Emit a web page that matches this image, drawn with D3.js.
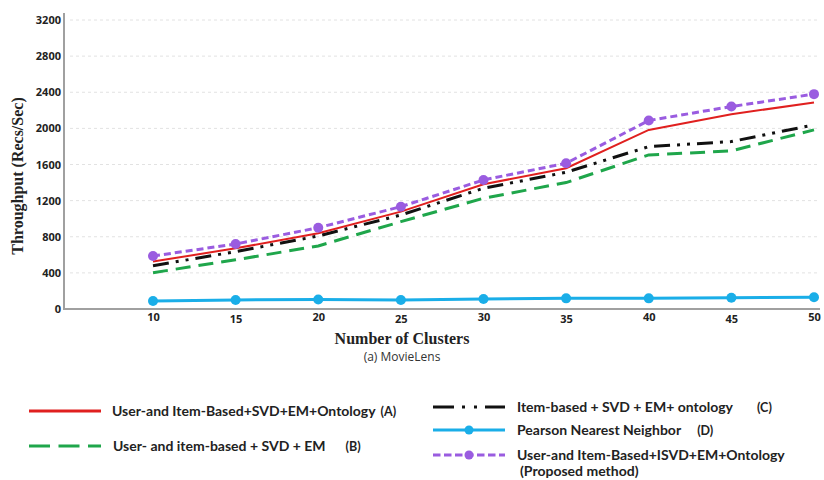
<!DOCTYPE html>
<html><head><meta charset="utf-8">
<script src="https://cdn.jsdelivr.net/npm/d3@7"></script>
<style>
body{margin:0;background:#fff;}
svg{display:block;}
</style></head>
<body>
<svg id="chart" width="824" height="480"></svg>
<script>
const clusters = [10, 15, 20, 25, 30, 35, 40, 45, 50];
const yTicks = [0, 400, 800, 1200, 1600, 2000, 2400, 2800, 3200];
const seriesA = [525, 672, 838, 1078, 1381, 1559, 1983, 2157, 2286];   // User-and Item-Based+SVD+EM+Ontology (A)
const seriesB = [402, 545, 698, 967, 1226, 1400, 1706, 1751, 1983];   // User- and item-based + SVD + EM (B)
const seriesC = [480, 635, 809, 1041, 1337, 1514, 1798, 1854, 2039];  // Item-based + SVD + EM+ ontology (C)
const seriesD = [89, 100, 105, 100, 110, 118, 118, 125, 130];          // Pearson Nearest Neighbor (D)
const seriesE = [587, 720, 900, 1133, 1429, 1614, 2087, 2242, 2379];  // Proposed

const svg = d3.select("#chart");
const x0 = 64, x1 = 820, yTop = 13, yBot = 309;
const x = d3.scaleLinear().domain([10, 50]).range([153, 814]);
const y = d3.scaleLinear().domain([0, 3200]).range([yBot, 20]);

// gridlines
svg.append("g").selectAll("line").data(yTicks.slice(1)).join("line")
  .attr("x1", x0 + 6).attr("x2", x1).attr("y1", d => y(d)).attr("y2", d => y(d))
  .attr("stroke", "#e2e2e2").attr("stroke-width", 1).attr("stroke-dasharray", "3,3");

// y axis
const yAxis = d3.axisLeft(y).tickValues(yTicks).tickSize(0).tickPadding(3).tickFormat(d3.format("d"));
const gy = svg.append("g").attr("transform", `translate(${x0},0)`).call(yAxis);
gy.select(".domain").remove();
gy.selectAll("text").attr("font-family", "'Open Sans', sans-serif").attr("font-weight", "bold")
  .attr("font-size", 11).attr("fill", "#222");
svg.append("line").attr("x1", x0).attr("x2", x0).attr("y1", yTop).attr("y2", yBot + 1)
  .attr("stroke", "#a0a0a0").attr("stroke-width", 2);

// x axis
const xAxis = d3.axisBottom(x).tickValues(clusters).tickSize(0).tickPadding(4).tickFormat(d3.format("d"));
const gx = svg.append("g").attr("transform", `translate(0,${yBot})`).call(xAxis);
gx.select(".domain").remove();
gx.selectAll("text").attr("font-family", "'Open Sans', sans-serif").attr("font-weight", "bold")
  .attr("font-size", 11).attr("fill", "#222")
  .attr("dy", (d, i) => (i % 2 === 1 ? "0.95em" : "0.75em"));
svg.append("line").attr("x1", x0 - 1).attr("x2", x1).attr("y1", yBot).attr("y2", yBot)
  .attr("stroke", "#a0a0a0").attr("stroke-width", 2);

// titles
svg.append("text").attr("transform", `translate(23,176) rotate(-90)`).attr("text-anchor", "middle")
  .attr("font-family", "'Liberation Serif', 'Times New Roman', serif").attr("font-weight", "bold")
  .attr("font-size", 16).attr("fill", "#222").text("Throughput (Recs/Sec)");
svg.append("text").attr("x", 402).attr("y", 344).attr("text-anchor", "middle")
  .attr("font-family", "'Liberation Serif', 'Times New Roman', serif").attr("font-weight", "bold")
  .attr("font-size", 16).attr("fill", "#222").text("Number of Clusters");
svg.append("text").attr("x", 402).attr("y", 361).attr("text-anchor", "middle")
  .attr("font-family", "'Open Sans', sans-serif")
  .attr("font-size", 12).attr("fill", "#333").text("(a) MovieLens");

const line = d3.line().x((d, i) => x(clusters[i])).y(d => y(d));

const series = [
  {v: seriesB, color: "#1fa64b", w: 3, dash: "15,8", marker: false},
  {v: seriesC, color: "#111", w: 3, dash: "16,7,3,7,3,7", marker: false},
  {v: seriesA, color: "#e0201f", w: 2, dash: null, marker: false},
  {v: seriesD, color: "#1aaee8", w: 3, dash: null, marker: true},
  {v: seriesE, color: "#9a5ce0", w: 3, dash: "7,4", marker: true},
];
series.forEach(s => {
  svg.append("path").datum(s.v).attr("d", line).attr("fill", "none")
    .attr("stroke", s.color).attr("stroke-width", s.w)
    .attr("stroke-dasharray", s.dash);
  if (s.marker) {
    svg.append("g").selectAll("circle").data(s.v).join("circle")
      .attr("cx", (d, i) => x(clusters[i])).attr("cy", d => y(d)).attr("r", 5)
      .attr("fill", s.color);
  }
});

// legend
const legendFont = "Lato, 'Open Sans', sans-serif";
const legend = [
  {x: 29, y: 411, len: 72, color: "#e0201f", w: 3, dash: null, marker: false, tx: 112,
   label: "User-and Item-Based+SVD+EM+Ontology", tag: "(A)", tagGap: 5},
  {x: 29, y: 446, len: 72, color: "#1fa64b", w: 3, dash: "21,8.5", marker: false, tx: 113,
   label: "User- and item-based + SVD + EM", tag: "(B)", tagGap: 20},
  {x: 433, y: 407, len: 72, color: "#111", w: 3, dash: "21,8,3,9,3,8", marker: false, tx: 517,
   label: "Item-based + SVD + EM+ ontology", tag: "(C)", tagGap: 24},
  {x: 433, y: 430, len: 72, color: "#1aaee8", w: 3, dash: null, marker: true, tx: 517,
   label: "Pearson Nearest Neighbor", tag: "(D)", tagGap: 16},
  {x: 433, y: 455, len: 72, color: "#9a5ce0", w: 3, dash: "7.5,3.5", marker: true, tx: 517,
   label: "User-and Item-Based+ISVD+EM+Ontology", tag: null, tagGap: 0},
];
legend.forEach(l => {
  svg.append("line").attr("x1", l.x).attr("x2", l.x + l.len).attr("y1", l.y).attr("y2", l.y)
    .attr("stroke", l.color).attr("stroke-width", l.w).attr("stroke-dasharray", l.dash);
  if (l.marker) svg.append("circle").attr("cx", l.x + 36).attr("cy", l.y).attr("r", 4.5).attr("fill", l.color);
  const t = svg.append("text").attr("x", l.tx).attr("y", l.y + 5)
    .attr("font-family", legendFont).attr("font-weight", "bold").attr("font-size", 14).attr("fill", "#222");
  t.append("tspan").text(l.label);
  if (l.tag) t.append("tspan").attr("dx", l.tagGap).attr("font-size", 12.5).text(l.tag);
});
svg.append("text").attr("x", 520).attr("y", 476)
  .attr("font-family", legendFont).attr("font-weight", "bold").attr("font-size", 14).attr("fill", "#222")
  .text("(Proposed method)");
</script>
</body></html>
